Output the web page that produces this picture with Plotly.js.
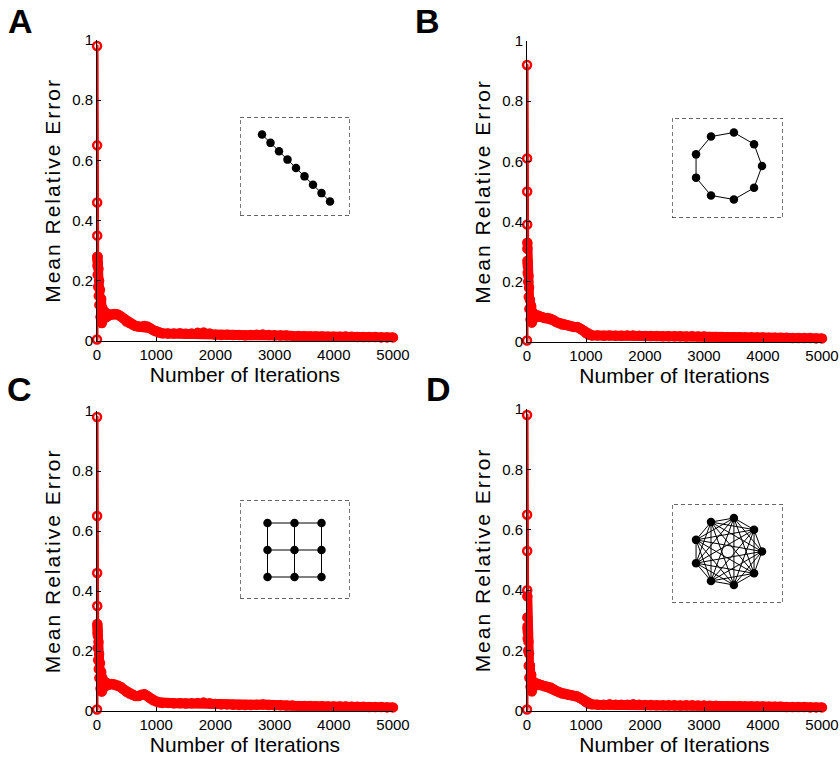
<!DOCTYPE html>
<html>
<head>
<meta charset="utf-8">
<script src="https://cdn.plot.ly/plotly-3.0.1.min.js"></script>
<style>
html,body{margin:0;padding:0;background:#fff;}
#chart{width:840px;height:765px;}
#chart .scatterlayer .js-line{stroke-linejoin:round;stroke-linecap:round;}
#chart text.ytitle,#chart text.y2title,#chart text.y3title,#chart text.y4title{letter-spacing:2px;}
</style>
</head>
<body>
<div id="chart"></div>
<script>
// ---------- data ----------
const iterations = [0,1,2,3,4,5,6,8,10,12,15,20,25,30,35,40,50,60,70,80,90,100,110,120,140,160,180,200,
  250,300,350,400,450,500,550,600,650,700,750,800,850,900,950,1000,1050,
  1100,1200,1300,1400,1500,1600,1700,1800,1900,2000,2100,2200,2300,2400,2500,2600,2700,2800,2900,3000,
  3100,3200,3300,3400,3500,3600,3700,3800,3900,4000,4100,4200,4300,4400,4500,4600,4700,4800,4900,5000];

const errorLine = [0.005,0.98,0.65,0.46,0.35,0.28,0.27,0.25,0.28,0.22,0.26,0.18,0.24,0.15,0.2,0.12,0.17,0.08,0.14,0.06,0.11,0.07,0.1,0.085,0.095,0.08,0.09,0.085,
  0.088,0.09,0.088,0.082,0.075,0.065,0.06,0.055,0.05,0.048,0.047,0.05,0.048,0.042,0.036,0.032,0.028,
  0.026,0.025,0.025,0.026,0.024,0.025,0.027,0.028,0.025,0.021,0.02,0.021,0.02,0.02,0.019,0.02,0.021,0.022,0.02,0.019,
  0.018,0.018,0.017,0.017,0.016,0.015,0.015,0.015,0.014,0.014,0.014,0.015,0.014,0.013,0.013,0.013,0.013,0.012,0.012,0.012];

const errorRing = [0.005,0.92,0.61,0.50,0.39,0.33,0.31,0.27,0.26,0.23,0.25,0.2,0.22,0.15,0.18,0.11,0.14,0.075,0.12,0.065,0.1,0.075,0.095,0.085,0.09,0.085,0.088,0.084,
  0.083,0.08,0.08,0.077,0.072,0.066,0.062,0.058,0.057,0.055,0.052,0.05,0.05,0.045,0.038,0.03,0.024,
  0.022,0.022,0.021,0.022,0.021,0.021,0.022,0.022,0.021,0.02,0.02,0.02,0.019,0.019,0.019,0.019,0.018,0.019,0.018,0.018,
  0.017,0.017,0.017,0.016,0.016,0.016,0.015,0.015,0.015,0.015,0.014,0.014,0.014,0.014,0.013,0.013,0.013,0.013,0.012,0.012];

const errorGrid = [0.005,0.98,0.65,0.46,0.35,0.29,0.28,0.26,0.27,0.21,0.25,0.17,0.23,0.14,0.19,0.11,0.16,0.075,0.13,0.065,0.11,0.075,0.1,0.09,0.095,0.085,0.092,0.088,
  0.09,0.088,0.085,0.08,0.072,0.064,0.058,0.054,0.05,0.05,0.054,0.056,0.05,0.042,0.036,0.032,0.029,
  0.027,0.027,0.026,0.026,0.025,0.026,0.027,0.028,0.026,0.023,0.022,0.022,0.021,0.02,0.02,0.02,0.021,0.022,0.02,0.019,
  0.019,0.018,0.018,0.017,0.017,0.017,0.016,0.016,0.015,0.015,0.015,0.015,0.014,0.014,0.014,0.013,0.013,0.013,0.012,0.012];

const errorFull = [0.005,0.98,0.65,0.53,0.40,0.38,0.31,0.28,0.27,0.24,0.26,0.2,0.23,0.15,0.19,0.11,0.15,0.08,0.12,0.065,0.1,0.08,0.095,0.085,0.092,0.088,0.09,0.086,
  0.085,0.082,0.08,0.078,0.072,0.066,0.062,0.058,0.056,0.054,0.052,0.05,0.048,0.043,0.037,0.03,0.024,
  0.022,0.021,0.021,0.022,0.021,0.021,0.021,0.022,0.021,0.02,0.02,0.019,0.019,0.019,0.019,0.018,0.019,0.019,0.018,0.018,
  0.017,0.017,0.016,0.016,0.016,0.016,0.015,0.015,0.015,0.015,0.014,0.014,0.014,0.013,0.013,0.013,0.013,0.012,0.012,0.012];

const panelLetters = ['A','B','C','D'];
const topologies = ['line','ring','grid','complete'];
const nodeCount = 9;
const xTickVals = [0,1000,2000,3000,4000,5000];
const yTickVals = [0,0.2,0.4,0.6,0.8,1];
const yTickText = ['0','0.2','0.4','0.6','0.8','1'];
const xTitleText = 'Number of Iterations';
const yTitleText = 'Mean Relative Error';

// ---------- layout geometry (pixels on a 840x765 page) ----------
const W = 840, H = 765;
const px = v => v / W;
const py = v => 1 - v / H;
const bandStart = 5; // from here on the samples overlap into a solid band
const panels = [
  {err: errorLine, x0: 97,  x1: 393, yTop: 40, yBot: 341, box: [240, 350, 117, 216], letter: [20, 21]},
  {err: errorRing, x0: 527, x1: 822, yTop: 41, yBot: 342, box: [672, 783, 118, 218], letter: [427, 21]},
  {err: errorGrid, x0: 97,  x1: 393, yTop: 411, yBot: 711, box: [240, 350, 500, 599], letter: [19, 389]},
  {err: errorFull, x0: 527, x1: 822, yTop: 409, yBot: 711, box: [672, 783, 504, 603], letter: [438, 389]}
];

const font = 'Liberation Sans, Arial, Helvetica, sans-serif';
const red = '#ff0000';
const traces = [];
const layout = {
  width: W, height: H,
  margin: {l: 0, r: 0, t: 0, b: 0},
  paper_bgcolor: '#ffffff', plot_bgcolor: 'rgba(0,0,0,0)',
  showlegend: false,
  font: {family: font, color: '#000'},
  annotations: [], shapes: []
};

function insetGraph(kind) {
  let nodes = [], edges = [];
  if (kind === 'line') {
    for (let i = 0; i < nodeCount; i++) {
      const t = i / (nodeCount - 1);
      nodes.push([-33 + 68 * t, 32 - 67 * t]);
      if (i > 0) edges.push([i - 1, i]);
    }
  } else if (kind === 'grid') {
    const n = Math.round(Math.sqrt(nodeCount));
    for (let r = 0; r < n; r++) for (let c = 0; c < n; c++) nodes.push([-27.5 + 27 * c, 26.5 - 27 * r]);
    for (let r = 0; r < n; r++) for (let c = 0; c < n; c++) {
      const i = r * n + c;
      if (c < n - 1) edges.push([i, i + 1]);
      if (r < n - 1) edges.push([i, i + n]);
    }
  } else {
    for (let i = 0; i < nodeCount; i++) {
      const a = i * 2 * Math.PI / nodeCount;
      nodes.push([0.5 + 34 * Math.cos(a), 2 + 34 * Math.sin(a)]);
    }
    if (kind === 'ring') {
      for (let i = 0; i < nodeCount; i++) edges.push([i, (i + 1) % nodeCount]);
    } else {
      for (let i = 0; i < nodeCount; i++) for (let j = i + 1; j < nodeCount; j++) edges.push([i, j]);
    }
  }
  return {nodes, edges};
}

const symbols = iterations.map((_, i) => i < bandStart ? 'circle-open' : 'circle');

panels.forEach((p, k) => {
  const n = k + 1;
  const xa = 'xaxis' + (n === 1 ? '' : n), ya = 'yaxis' + (n === 1 ? '' : n);
  const xr = 'x' + (n === 1 ? '' : n), yr = 'y' + (n === 1 ? '' : n);
  traces.push({
    type: 'scatter', mode: 'lines', x: iterations.slice(bandStart), y: p.err.slice(bandStart),
    xaxis: xr, yaxis: yr, cliponaxis: false,
    line: {color: red, width: 10}, hoverinfo: 'skip'
  });
  traces.push({
    type: 'scatter', mode: 'lines+markers', x: iterations, y: p.err,
    xaxis: xr, yaxis: yr, cliponaxis: false,
    line: {color: red, width: 3},
    marker: {symbol: symbols, size: 8, color: red, line: {color: red, width: 2.5}},
    hoverinfo: 'x+y'
  });
  layout[xa] = {
    domain: [px(p.x0), px(p.x1)], anchor: yr, range: [0, 5000],
    tickvals: xTickVals, ticks: 'inside', ticklen: 4, tickcolor: '#000',
    showline: true, linecolor: '#000', linewidth: 1, showgrid: false, zeroline: false,
    tickfont: {size: 15, family: font, color: '#000'},
    title: {text: xTitleText, font: {size: 21, family: font, color: '#000'}, standoff: 2}
  };
  layout[ya] = {
    domain: [py(p.yBot), py(p.yTop)], anchor: xr, range: [0, 1],
    tickvals: yTickVals, ticktext: yTickText, ticks: 'inside', ticklen: 4, tickcolor: '#000',
    showline: true, linecolor: '#000', linewidth: 1, showgrid: false, zeroline: false,
    tickfont: {size: 15, family: font, color: '#000'},
    title: {text: yTitleText, font: {size: 21, family: font, color: '#000'}, standoff: 5}
  };
  layout.annotations.push({
    text: '<b>' + panelLetters[k] + '</b>', xref: 'paper', yref: 'paper',
    x: px(p.letter[0]), y: py(p.letter[1]), xanchor: 'center', yanchor: 'middle',
    showarrow: false, font: {size: 34, family: font, color: '#000'}
  });
  const m = n + 4;
  const ixr = 'x' + m, iyr = 'y' + m;
  const [bx0, bx1, by0, by1] = p.box;
  const hw = (bx1 - bx0) / 2, hh = (by1 - by0) / 2;
  layout['xaxis' + m] = {domain: [px(bx0), px(bx1)], anchor: iyr, range: [-hw, hw], visible: false, fixedrange: true};
  layout['yaxis' + m] = {domain: [py(by1), py(by0)], anchor: ixr, range: [-hh, hh], visible: false, fixedrange: true};
  layout.shapes.push({
    type: 'rect', xref: ixr, yref: iyr, x0: -hw, x1: hw, y0: -hh, y1: hh,
    line: {color: '#333', width: 1.3, dash: '4px,3px'}, fillcolor: 'rgba(0,0,0,0)'
  });
  const g = insetGraph(topologies[k]);
  const ex = [], ey = [];
  g.edges.forEach(([a, b]) => { ex.push(g.nodes[a][0], g.nodes[b][0], null); ey.push(g.nodes[a][1], g.nodes[b][1], null); });
  traces.push({type: 'scatter', mode: 'lines', x: ex, y: ey, xaxis: ixr, yaxis: iyr,
    line: {color: '#000', width: 1}, hoverinfo: 'skip'});
  traces.push({type: 'scatter', mode: 'markers', x: g.nodes.map(d => d[0]), y: g.nodes.map(d => d[1]),
    xaxis: ixr, yaxis: iyr, marker: {color: '#000', size: 8.5}, hoverinfo: 'skip'});
});

Plotly.newPlot('chart', traces, layout, {displayModeBar: false, staticPlot: true});
</script>
</body>
</html>
